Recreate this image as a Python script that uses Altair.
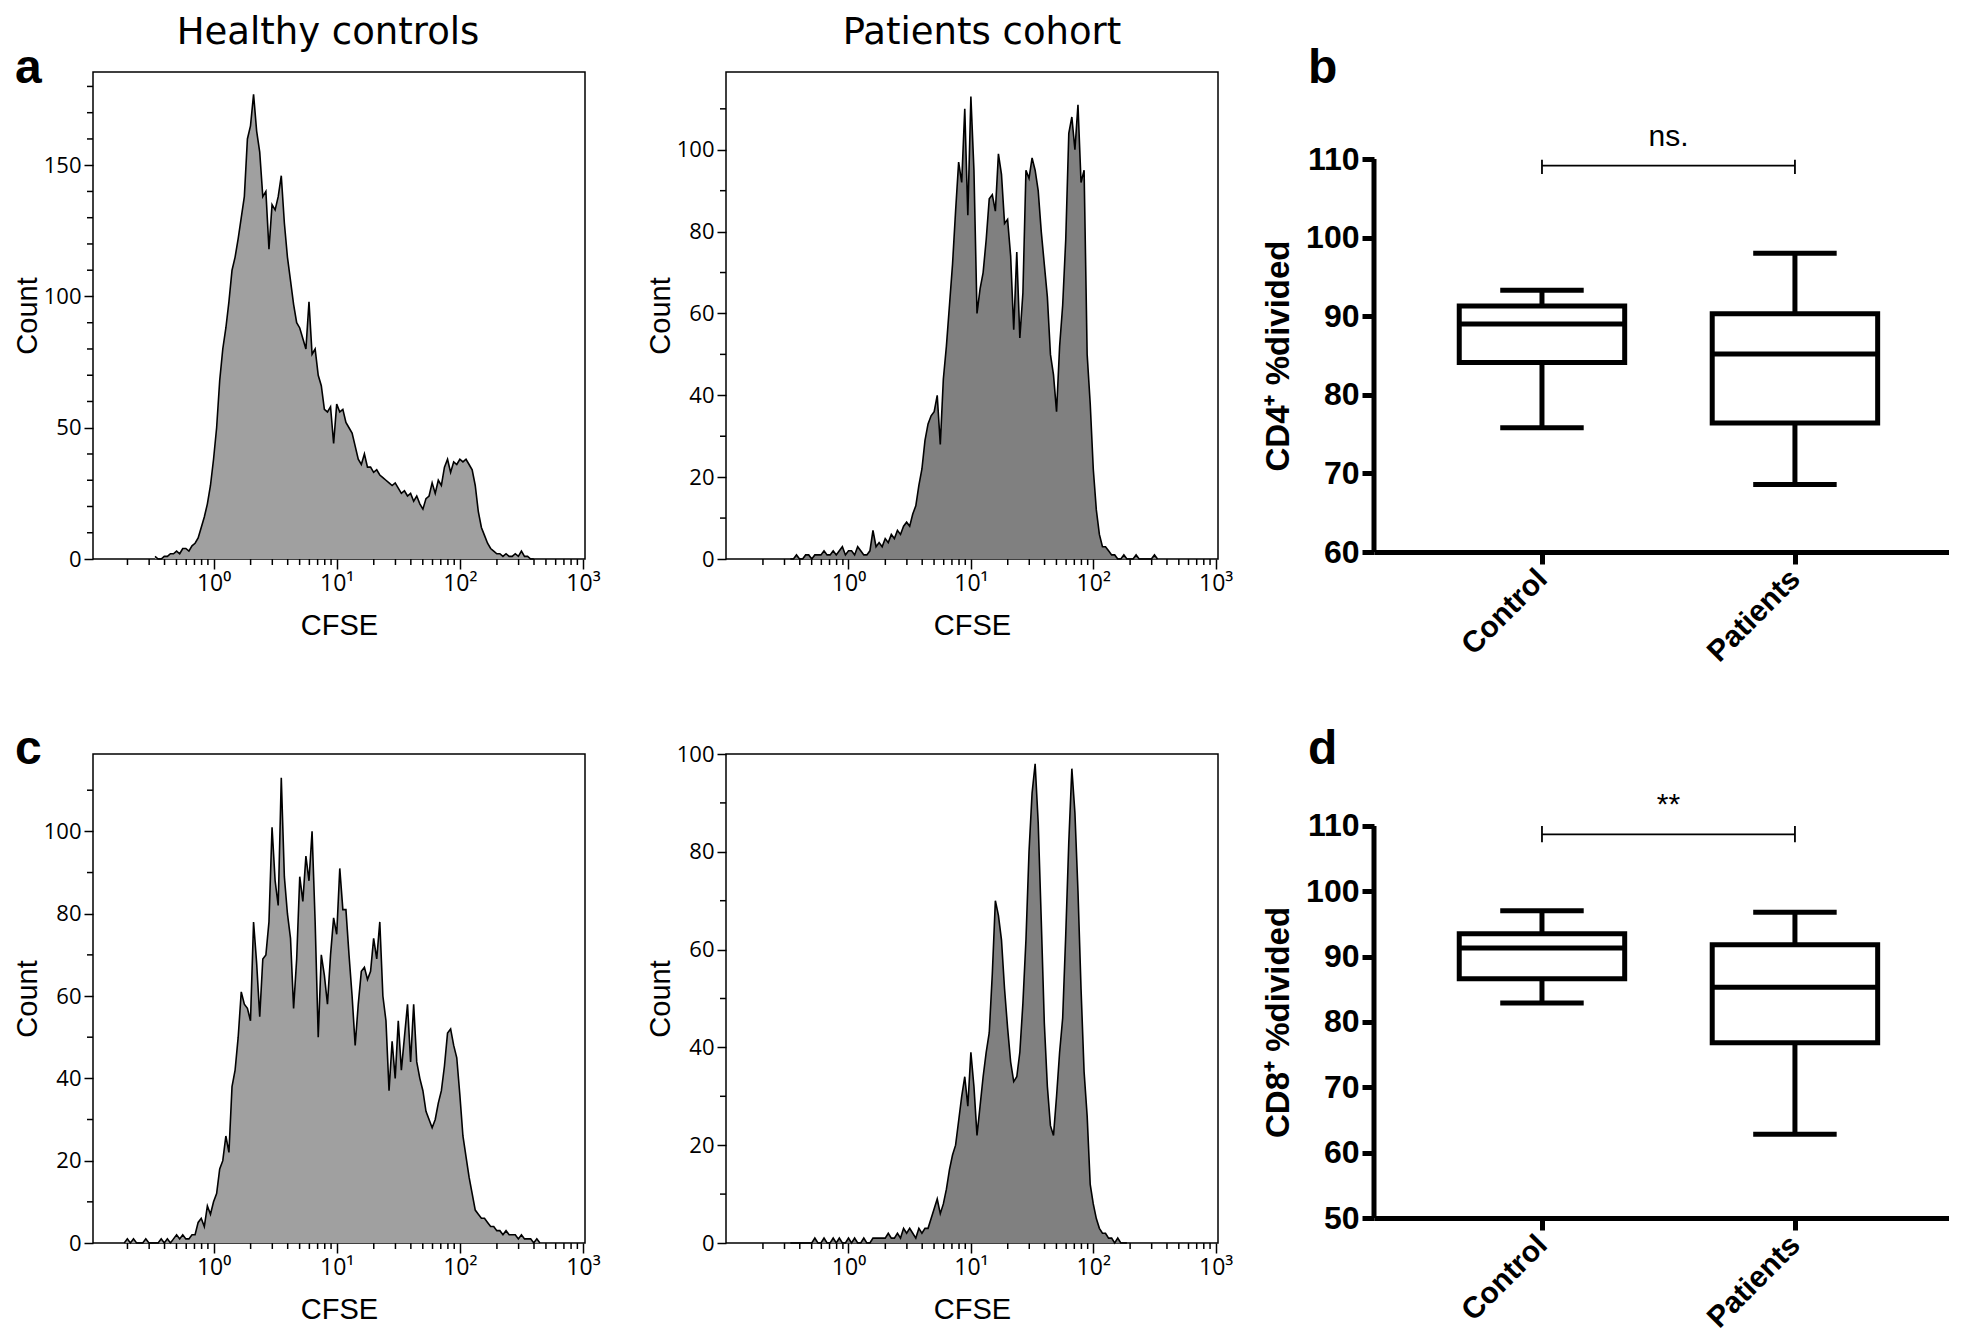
import altair as alt
import numpy as np
import pandas as pd

# ---------------- histogram data: counts per log-spaced CFSE channel ----------------
STEP = 0.025  # channel width (decades)

a_start = -0.475
a_counts = [1, 0, 0, 1, 1, 2, 2, 3, 2, 4,
            4, 3, 5, 6, 8, 12, 16, 21, 28, 38,
            50, 68, 80, 88, 98, 110, 115, 122, 130, 138,
            160, 165, 177, 163, 155, 138, 140, 118, 135, 133,
            138, 146, 128, 115, 106, 97, 90, 88, 84, 80,
            98, 78, 80, 70, 66, 57, 56, 58, 44, 59,
            56, 57, 52, 50, 48, 43, 38, 36, 40, 35,
            35, 33, 34, 32, 31, 30, 29, 28, 29, 27,
            25, 26, 24, 25, 22, 24, 21, 19, 23, 24,
            29, 25, 30, 28, 35, 38, 33, 37, 36, 38,
            37, 38, 36, 34, 28, 18, 12, 9, 6, 4,
            3, 2, 2, 1, 2, 1, 1, 2, 1, 3,
            1, 1, 0, 0]

b_start = -0.475
b_counts = [0, 0, 1, 0, 0, 1, 1, 0, 1, 1,
            1, 2, 1, 1, 2, 1, 2, 3, 1, 2,
            2, 1, 3, 2, 1, 1, 2, 7, 3, 4,
            3, 5, 4, 6, 5, 7, 6, 8, 9, 8,
            11, 13, 18, 22, 29, 33, 35, 36, 40, 28,
            44, 52, 62, 72, 85, 97, 92, 110, 84, 113,
            95, 60, 66, 70, 78, 88, 89, 85, 99, 94,
            82, 83, 74, 56, 75, 54, 65, 95, 93, 98,
            95, 90, 80, 72, 64, 50, 45, 36, 52, 62,
            78, 104, 108, 100, 111, 92, 95, 50, 38, 22,
            12, 6, 3, 3, 2, 1, 1, 0, 0, 1,
            0, 0, 0, 1, 0, 0, 0, 0, 0, 1,
            0]

c_start = -0.725
c_counts = [0, 1, 0, 1, 0, 0, 0, 1, 0, 0,
            0, 0, 1, 0, 1, 0, 1, 2, 1, 2,
            1, 1, 2, 2, 5, 6, 4, 9, 7, 10,
            12, 18, 20, 26, 22, 38, 42, 50, 61, 58,
            57, 54, 78, 68, 55, 69, 70, 78, 101, 88,
            82, 113, 89, 80, 74, 57, 69, 89, 83, 94,
            88, 100, 78, 50, 70, 65, 58, 70, 79, 75,
            91, 81, 81, 70, 60, 48, 58, 66, 67, 64,
            66, 74, 69, 78, 60, 54, 37, 49, 40, 54,
            42, 50, 58, 44, 58, 44, 40, 37, 32, 30,
            28, 30, 34, 37, 43, 51, 52, 48, 45, 36,
            26, 21, 16, 12, 8, 7, 6, 6, 5, 4,
            4, 3, 3, 2, 3, 2, 2, 2, 1, 2,
            1, 1, 1, 0, 1, 0]

d_start = -0.475
d_counts = [0, 0, 0, 0, 0, 0, 0, 0, 1, 0,
            0, 1, 0, 0, 1, 0, 1, 0, 0, 1,
            0, 1, 0, 0, 1, 0, 0, 1, 1, 1,
            1, 1, 2, 1, 1, 2, 1, 3, 2, 3,
            2, 1, 3, 2, 3, 3, 5, 7, 9, 6,
            8, 11, 15, 18, 20, 25, 30, 34, 28, 39,
            32, 22, 28, 34, 39, 43, 55, 70, 67, 62,
            52, 44, 37, 33, 34, 39, 49, 62, 80, 92,
            98, 86, 66, 45, 32, 24, 22, 30, 39, 46,
            63, 82, 97, 88, 72, 52, 35, 26, 12, 8,
            5, 3, 2, 2, 1, 1, 0, 1, 0, 0,
            0]

col_titles = ["Healthy controls", "Patients cohort"]
panel_letters = ["a", "b", "c", "d"]
decades = [1, 10, 100, 1000]
decade_labels = ["10\u2070", "10\u00b9", "10\u00b2", "10\u00b3"]

# ---------------- box plot data ----------------
groups = ["Control", "Patients"]
group_pos = [1, 2]
cd4_lo = [75.8, 68.6]
cd4_q1 = [84.1, 76.4]
cd4_med = [89.0, 85.2]
cd4_q3 = [91.3, 90.3]
cd4_hi = [93.3, 98.0]
cd8_lo = [82.9, 62.8]
cd8_q1 = [86.6, 76.8]
cd8_med = [91.3, 85.3]
cd8_q3 = [93.5, 91.8]
cd8_hi = [97.0, 96.8]
sig_labels = ["ns.", "**"]

# ---------------- styling / layout ----------------
HFONT = "Open Sans"
AFONT = "Liberation Sans"
TFONT = "DejaVu Sans"
BFONT = "Liberation Sans"
HW = 492           # histogram plot width
H1, H2 = 487, 489  # histogram plot heights (row 1, row 2)
BW = 575           # box plot width
SP1, SP2 = 141, 156
ROW_GAP = 195

x_label_expr = " : ".join(
    f"datum.value == {v} ? '{l}'" for v, l in zip(decades[:-1], decade_labels[:-1])
) + f" : '{decade_labels[-1]}'"


def hist(counts, start, fill, xdom, ymax, ymajor, yminor, H, title=None, title_x=0, letter=None, letter_y=11):
    logs = start + STEP * np.arange(len(counts))
    df = pd.DataFrame({"cfse": 10 ** logs, "count": counts})
    xs = alt.Scale(type="log", domain=xdom, nice=False)
    ys = alt.Scale(domain=[0, ymax], nice=False, zero=True)
    xaxis = alt.Axis(values=decades, labelExpr=x_label_expr, tickSize=10, tickWidth=1.5,
                     tickColor="black", labelFont=HFONT, labelFontSize=23, labelColor="black",
                     labelPadding=3, labelFlush=False, labelOverlap=False, domain=False,
                     grid=False, title="CFSE", titleFont=AFONT, titleFontSize=29,
                     titleFontWeight="normal", titleColor="black", titlePadding=16)
    yaxis = alt.Axis(values=ymajor, tickSize=9, tickWidth=1.5, tickColor="black",
                     labelFont=HFONT, labelFontSize=22, labelColor="black", labelPadding=3,
                     labelFlush=False, labelOverlap=False, domain=False, grid=False,
                     title="Count", titleFont=AFONT, titleFontSize=29, titleFontWeight="normal",
                     titleColor="black", titlePadding=7, titleBaseline="alphabetic")
    area = alt.Chart(df).mark_area(
        color=fill, opacity=1, line={"color": "black", "strokeWidth": 1.6}
    ).encode(x=alt.X("cfse:Q", scale=xs, axis=xaxis), y=alt.Y("count:Q", scale=ys, axis=yaxis))
    minors_x = [m * 10.0 ** k for k in range(-1, 3) for m in range(2, 10)]
    xm = alt.Chart(pd.DataFrame({"v": minors_x})).mark_rule(color="black", strokeWidth=1.5).encode(
        x=alt.X("v:Q", scale=xs, axis=xaxis), y=alt.value(H), y2=alt.value(H + 6))
    ym = alt.Chart(pd.DataFrame({"v": yminor})).mark_rule(color="black", strokeWidth=1.5).encode(
        y=alt.Y("v:Q", scale=ys, axis=yaxis), x=alt.value(-6), x2=alt.value(0))
    layers = [area, xm, ym]
    if title is not None:
        layers.append(alt.Chart(pd.DataFrame({"t": [title]})).mark_text(
            font=TFONT, fontSize=37, color="black", align="center", baseline="alphabetic"
        ).encode(text="t:N", x=alt.value(title_x), y=alt.value(-28)))
    if letter is not None:
        layers.append(alt.Chart(pd.DataFrame({"t": [letter]})).mark_text(
            font=BFONT, fontSize=48, fontWeight="bold", color="black", align="left",
            baseline="alphabetic"
        ).encode(text="t:N", x=alt.value(-78), y=alt.value(letter_y)))
    return alt.layer(*layers).properties(
        width=HW, height=H, view=alt.ViewBackground(stroke="black", strokeWidth=1.5))


def box(lo, q1, med, q3, hi, ytitle, ylo, ytop, yvals, H, sig, sig_y, tick_lo, tick_hi, sig_ty, letter, letter_y):
    df = pd.DataFrame({"group": groups, "pos": group_pos, "lo": lo, "q1": q1,
                       "med": med, "q3": q3, "hi": hi})
    xs = alt.Scale(domain=[0.336, 2.609], nice=False, zero=False)
    ys = alt.Scale(domain=[ylo, ytop], nice=False, zero=False)
    ppu = H / (ytop - ylo)
    title_y = (ytop - (yvals[0] + yvals[-1]) / 2) * ppu
    lab_expr = f"datum.value == {group_pos[0]} ? '{groups[0]}' : '{groups[1]}'"
    xaxis = alt.Axis(values=group_pos, labelExpr=lab_expr, labelAngle=315, labelAlign="right",
                     labelBaseline="middle", labelFont=BFONT, labelFontSize=30,
                     labelFontWeight="bold", labelColor="black", labelPadding=10,
                     labelOverlap=False, labelFlush=False, tickSize=12, tickWidth=5,
                     tickColor="black", domainColor="black", domainWidth=5, grid=False, title=None)
    yaxis = alt.Axis(values=yvals, labelFont=BFONT, labelFontSize=32, labelFontWeight="bold",
                     labelColor="black", labelPadding=3, labelFlush=False, labelOverlap=False,
                     tickSize=12, tickWidth=5, tickColor="black", domain=False, grid=False,
                     title=ytitle, titleFont=BFONT, titleFontSize=33, titleFontWeight="bold",
                     titleColor="black", titlePadding=10, titleY=title_y)
    X = lambda f: alt.X(f, scale=xs, axis=xaxis)
    Y = lambda f: alt.Y(f, scale=ys, axis=yaxis)
    base = alt.Chart(df).transform_calculate(
        bl="datum.pos - 0.327", br="datum.pos + 0.327",
        cl="datum.pos - 0.165", cr="datum.pos + 0.165")
    rule = dict(color="black", strokeWidth=5)
    w_hi = base.mark_rule(**rule).encode(x=X("pos:Q"), y=Y("q3:Q"), y2="hi:Q")
    w_lo = base.mark_rule(**rule).encode(x=X("pos:Q"), y=Y("lo:Q"), y2="q1:Q")
    cap_hi = base.mark_rule(**rule).encode(x=X("cl:Q"), x2="cr:Q", y=Y("hi:Q"))
    cap_lo = base.mark_rule(**rule).encode(x=X("cl:Q"), x2="cr:Q", y=Y("lo:Q"))
    rect = base.mark_rect(fill="white", stroke="black", strokeWidth=5).encode(
        x=X("bl:Q"), x2="br:Q", y=Y("q1:Q"), y2="q3:Q")
    median = base.mark_rule(**rule).encode(x=X("bl:Q"), x2="br:Q", y=Y("med:Q"))
    yline = alt.Chart(pd.DataFrame({"y0": [yvals[0]], "y1": [yvals[-1]]})).mark_rule(**rule).encode(
        x=alt.value(0), y=Y("y0:Q"), y2="y1:Q")
    sdf = pd.DataFrame({"x1": [group_pos[0]], "x2": [group_pos[1]], "y": [sig_y],
                        "xm": [(group_pos[0] + group_pos[1]) / 2], "ty": [sig_ty], "label": [sig]})
    bracket = alt.Chart(sdf).mark_rule(color="black", strokeWidth=1.8).encode(
        x=X("x1:Q"), x2="x2:Q", y=Y("y:Q"))
    tdf = pd.DataFrame({"p": group_pos, "t0": [tick_lo] * 2, "t1": [tick_hi] * 2})
    bticks = alt.Chart(tdf).mark_rule(color="black", strokeWidth=1.8).encode(
        x=X("p:Q"), y=Y("t0:Q"), y2="t1:Q")
    stext = alt.Chart(sdf).mark_text(font=BFONT, fontSize=30, color="black", align="center",
                                     baseline="alphabetic").encode(
        x=X("xm:Q"), y=Y("ty:Q"), text="label:N")
    let = alt.Chart(pd.DataFrame({"t": [letter]})).mark_text(
        font=BFONT, fontSize=48, fontWeight="bold", color="black", align="left",
        baseline="alphabetic").encode(text="t:N", x=alt.value(-66), y=alt.value(letter_y))
    return alt.layer(w_hi, w_lo, cap_hi, cap_lo, rect, median, yline, bracket, bticks, stext, let).properties(
        width=BW, height=H)


def spacer(w):
    return alt.Chart(pd.DataFrame({"v": [0]})).mark_point(opacity=0).encode(
        x=alt.X("v:Q", axis=None), y=alt.Y("v:Q", axis=None)).properties(width=w, height=1)


hist_a = hist(a_counts, a_start, "#a0a0a0", [0.105, 1038], 185.5, [0, 50, 100, 150],
              [v for v in range(10, 190, 10) if v % 50 != 0], H1,
              title=col_titles[0], title_x=235, letter=panel_letters[0], letter_y=11)
hist_b = hist(b_counts, b_start, "#808080", [0.0998, 1045], 119, [0, 20, 40, 60, 80, 100],
              [10, 30, 50, 70, 90, 110], H1, title=col_titles[1], title_x=256)
hist_c = hist(c_counts, c_start, "#a0a0a0", [0.105, 1038], 118.8, [0, 20, 40, 60, 80, 100],
              [10, 30, 50, 70, 90, 110], H2, letter=panel_letters[2], letter_y=10)
hist_d = hist(d_counts, d_start, "#808080", [0.0998, 1045], 100, [0, 20, 40, 60, 80, 100],
              [10, 30, 50, 70, 90], H2)

box_b = box(cd4_lo, cd4_q1, cd4_med, cd4_q3, cd4_hi, "CD4\u207a %divided",
            60, 121.07, [60, 70, 80, 90, 100, 110], 480, sig_labels[0], 109.15, 108.1, 109.9, 111.6,
            panel_letters[1], 11)
box_d = box(cd8_lo, cd8_q1, cd8_med, cd8_q3, cd8_hi, "CD8\u207a %divided",
            50, 121.0, [50, 60, 70, 80, 90, 100, 110], 464, sig_labels[1], 108.7, 107.5, 110.0, 111.8,
            panel_letters[3], 10)

chart = alt.concat(
    hist_a, spacer(SP1), hist_b, spacer(SP2), box_b,
    hist_c, spacer(SP1), hist_d, spacer(SP2), box_d,
    columns=5, spacing={"row": ROW_GAP, "column": 0}, bounds="flush", align="each"
).properties(
    padding={"left": 4, "top": 5, "right": 0, "bottom": 0}
).configure_view(strokeWidth=0)

chart.save("out.html", embed_options={"renderer": "svg", "actions": False})
